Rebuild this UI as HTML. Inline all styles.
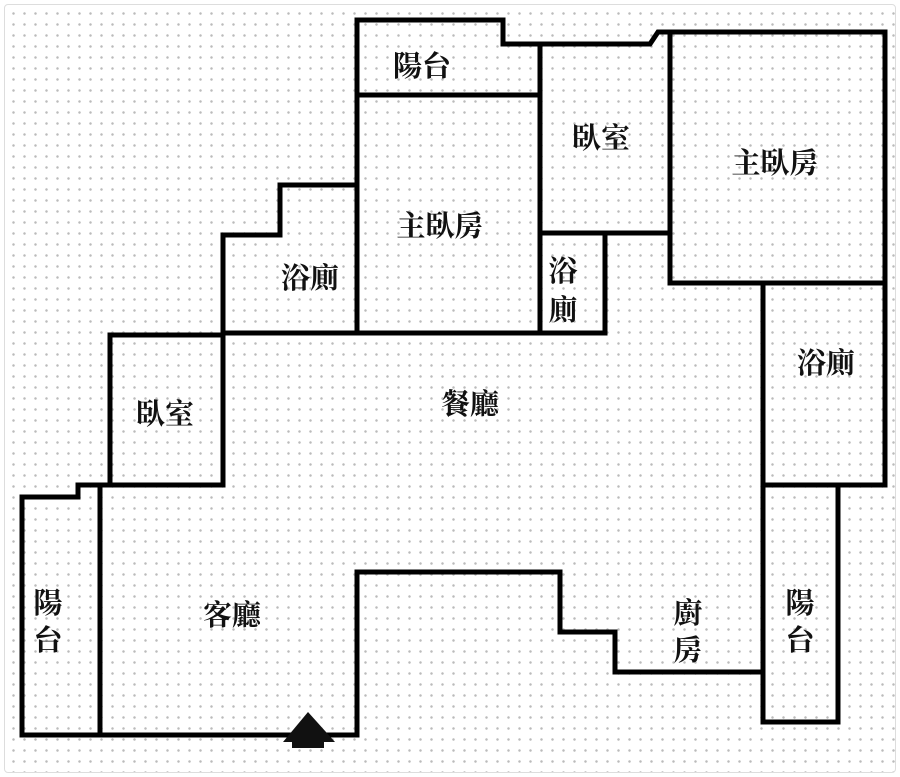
<!DOCTYPE html>
<html><head><meta charset="utf-8"><style>
html,body{margin:0;padding:0;background:#fff}
.wrap{position:relative;width:900px;height:777px;overflow:hidden;background:#fff}
.frame{position:absolute;left:4px;top:4px;width:890px;height:767px;border:1px solid #ddd;border-radius:4px;
background-image:radial-gradient(circle,#bbb 1px,transparent 1.5px);background-size:11px 11px;background-position:3px 3px}
svg{position:absolute;left:0;top:0}
text{font-family:"Liberation Serif","Noto Serif CJK TC","Noto Serif CJK SC",serif;font-size:29px;font-weight:bold;fill:#111}
</style></head><body><div class="wrap"><div class="frame"></div>
<svg width="900" height="777" viewBox="0 0 900 777">
<g fill="none" stroke="#000" stroke-width="5" stroke-linejoin="miter" stroke-linecap="square">
<polyline points="357,735 22,735 22,497 78,497 78,485 110,485 110,335 223,335 223,235 280,235 280,185 357,185 357,20 503,20 503,44 650,44 658,32 885,32 885,485 838,485 838,722 763,722 763,672 615,672 615,632 560,632 560,572 357,572 357,735"/>
<line x1="100" y1="485" x2="100" y2="735"/>
<line x1="100" y1="485" x2="223" y2="485"/>
<line x1="223" y1="335" x2="223" y2="485"/>
<line x1="223" y1="333" x2="605" y2="333"/>
<line x1="357" y1="20" x2="357" y2="333"/>
<line x1="357" y1="95" x2="540" y2="95"/>
<line x1="540" y1="44" x2="540" y2="333"/>
<line x1="540" y1="233" x2="670" y2="233"/>
<line x1="605" y1="233" x2="605" y2="333"/>
<line x1="670" y1="32" x2="670" y2="283"/>
<line x1="670" y1="283" x2="885" y2="283"/>
<line x1="763" y1="283" x2="763" y2="722"/>
<line x1="763" y1="485" x2="885" y2="485"/>
</g>
<polygon points="308,712 335,742 283,742" fill="#111"/>
<rect x="292" y="740" width="32" height="8" fill="#111"/>
<text x="422" y="76" text-anchor="middle">陽台</text>
<text x="601" y="148" text-anchor="middle">臥室</text>
<text x="775" y="173" text-anchor="middle">主臥房</text>
<text x="440" y="236" text-anchor="middle">主臥房</text>
<text x="310" y="288" text-anchor="middle">浴廁</text>
<text x="563" y="281" text-anchor="middle">浴</text>
<text x="563" y="320" text-anchor="middle">廁</text>
<text x="826" y="373" text-anchor="middle">浴廁</text>
<text x="165" y="424" text-anchor="middle">臥室</text>
<text x="470" y="414" text-anchor="middle">餐廳</text>
<text x="232" y="625" text-anchor="middle">客廳</text>
<text x="688" y="623" text-anchor="middle">廚</text>
<text x="688" y="660" text-anchor="middle">房</text>
<text x="800" y="613" text-anchor="middle">陽</text>
<text x="800" y="650" text-anchor="middle">台</text>
<text x="48" y="613" text-anchor="middle">陽</text>
<text x="48" y="650" text-anchor="middle">台</text>
</svg></div></body></html>
